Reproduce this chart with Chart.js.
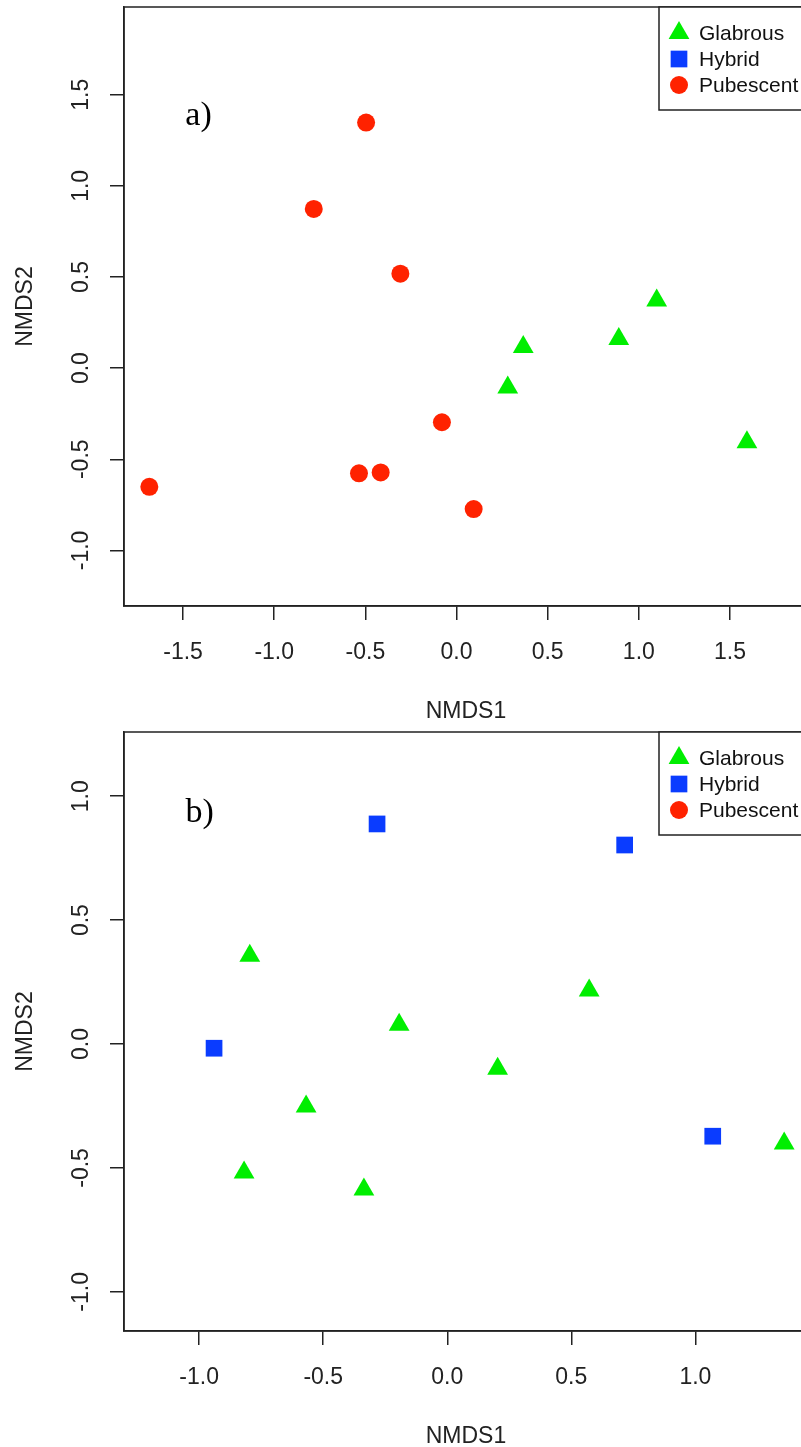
<!DOCTYPE html>
<html><head><meta charset="utf-8">
<script src="https://cdn.jsdelivr.net/npm/chart.js@4.4.1/dist/chart.umd.min.js"></script>
<style>
html,body{margin:0;padding:0;background:#fff;overflow:hidden;width:801px;height:1447px;}
#wa{position:absolute;left:0;top:0;width:820px;height:725px;}
#wb{position:absolute;left:0;top:725px;width:820px;height:725px;}
canvas{display:block;}
</style></head><body>
<div id="wa"><canvas id="ca" width="820" height="725"></canvas></div>
<div id="wb"><canvas id="cb" width="820" height="725"></canvas></div>
<script>
// ---- data ----
const seriesNames = ['Glabrous', 'Hybrid', 'Pubescent'];

// panel a)
const aGlabrousX   = [1.098, 0.890, 0.366, 0.281, 1.593];
const aGlabrousY   = [0.371, 0.160, 0.116, -0.106, -0.407];
const aHybridX     = [];
const aHybridY     = [];
const aPubescentX  = [-0.496, -0.783, -0.308, -0.080, 0.094, -1.685, -0.535, -0.416];
const aPubescentY  = [1.347, 0.873, 0.518, -0.297, -0.773, -0.651, -0.577, -0.572];

// panel b)
const bGlabrousX   = [-0.796, -0.194, -0.569, 0.572, 0.203, 1.358, -0.819, -0.336];
const bGlabrousY   = [0.356, 0.078, -0.252, 0.216, -0.100, -0.401, -0.518, -0.587];
const bHybridX     = [-0.283, -0.940, 0.715, 1.070];
const bHybridY     = [0.888, -0.017, 0.803, -0.372];
const bPubescentX  = [];
const bPubescentY  = [];

// axes
const aXTicks = [-1.5, -1.0, -0.5, 0.0, 0.5, 1.0, 1.5];
const aYTicks = [-1.0, -0.5, 0.0, 0.5, 1.0, 1.5];
const bXTicks = [-1.0, -0.5, 0.0, 0.5, 1.0];
const bYTicks = [-1.0, -0.5, 0.0, 0.5, 1.0];
const aXRange = [-1.824, 1.928];
const aYRange = [-1.305, 1.981];
const bXRange = [-1.303, 1.454];
const bYRange = [-1.158, 1.259];
const xTitle = 'NMDS1';
const yTitle = 'NMDS2';
const aTag = 'a)', aTagPos = [-1.415, 1.38];
const bTag = 'b)', bTagPos = [-0.998, 0.93];

// ---- styles ----
const styles = {
  Glabrous:  {pointStyle: 'triangle', radius: 12,   color: '#00ee00'},
  Hybrid:    {pointStyle: 'rect',     radius: 11.8, color: '#0a3cff'},
  Pubescent: {pointStyle: 'circle',   radius: 9,    color: '#ff2200'}
};
const AXIS = '#222';
const SANS = '"Liberation Sans", Arial, sans-serif';

function ds(name, xs, ys) {
  const s = styles[name];
  return {
    label: name,
    data: xs.map((x, i) => ({x: x, y: ys[i]})),
    pointStyle: s.pointStyle,
    pointRadius: s.radius,
    pointHoverRadius: s.radius,
    backgroundColor: s.color,
    borderColor: s.color,
    pointBorderWidth: 0,
    showLine: false
  };
}

function drawMarker(ctx, style, x, y) {
  ctx.fillStyle = style.color;
  ctx.strokeStyle = style.color;
  if (Chart.helpers && Chart.helpers.drawPoint) {
    Chart.helpers.drawPoint(ctx, {pointStyle: style.pointStyle, rotation: 0, radius: style.radius, borderWidth: 0}, x, y);
  }
}

const decor = {
  id: 'decor',
  afterDraw(chart, args, o) {
    const {ctx, chartArea: a} = chart;
    const xs = chart.scales.x, ys = chart.scales.y;
    ctx.save();
    // frame
    ctx.strokeStyle = AXIS; ctx.lineWidth = 1.5;
    ctx.strokeRect(a.left, a.top, a.right - a.left, a.bottom - a.top);
    // panel tag
    ctx.fillStyle = '#000';
    ctx.font = '34px "Liberation Serif", "Times New Roman", serif';
    ctx.textAlign = 'center'; ctx.textBaseline = 'middle';
    ctx.fillText(o.tag, xs.getPixelForValue(o.tagPos[0]), ys.getPixelForValue(o.tagPos[1]));
    // legend box
    const lx = a.right - 149, ly = a.top, lw = 149, lh = 103;
    ctx.fillStyle = '#fff';
    ctx.fillRect(lx, ly, lw, lh);
    ctx.strokeRect(lx, ly, lw, lh);
    const rows = [26, 52, 78];
    ctx.font = '21px ' + SANS;
    ctx.textAlign = 'left'; ctx.textBaseline = 'middle';
    seriesNames.forEach((n, i) => {
      drawMarker(ctx, styles[n], lx + 20, ly + rows[i]);
      ctx.fillStyle = '#111';
      ctx.fillText(n, lx + 40, ly + rows[i] + 1);
    });
    ctx.restore();
  }
};

function makeChart(id, datasets, xr, yr, xt, yt, tag, tagPos) {
  const tickFont = {family: SANS, size: 23};
  return new Chart(document.getElementById(id), {
    type: 'scatter',
    data: {datasets: datasets},
    options: {
      responsive: false,
      devicePixelRatio: 1,
      animation: false,
      events: [],
      layout: {autoPadding: false, padding: {left: 0, top: 7, right: 12, bottom: 0}},
      plugins: {legend: {display: false}, tooltip: {enabled: false}, decor: {tag: tag, tagPos: tagPos}},
      scales: {
        x: {
          type: 'linear', min: xr[0], max: xr[1],
          afterBuildTicks: s => { s.ticks = xt.map(v => ({value: v})); },
          afterFit: s => { s.height = 119; s.paddingLeft = 0; s.paddingRight = 0; },
          grid: {drawOnChartArea: false, drawTicks: true, tickLength: 14, color: AXIS, lineWidth: 1.5},
          border: {display: true, color: AXIS, width: 1.5},
          ticks: {font: tickFont, color: '#222', padding: 19, maxRotation: 0, minRotation: 0,
                  callback: v => Number(v).toFixed(1)},
          title: {display: true, text: xTitle, font: {family: SANS, size: 23}, color: '#222',
                  padding: {top: 0, bottom: 0}}
        },
        y: {
          type: 'linear', min: yr[0], max: yr[1],
          afterBuildTicks: s => { s.ticks = yt.map(v => ({value: v})); },
          afterFit: s => { s.width = 124; s.paddingTop = 0; s.paddingBottom = 0; },
          grid: {drawOnChartArea: false, drawTicks: true, tickLength: 14, color: AXIS, lineWidth: 1.5},
          border: {display: true, color: AXIS, width: 1.5},
          ticks: {font: tickFont, color: '#222', padding: 9, minRotation: 90, maxRotation: 90,
                  crossAlign: 'center', callback: v => Number(v).toFixed(1)},
          title: {display: true, text: yTitle, font: {family: SANS, size: 23}, color: '#222',
                  padding: {top: 12, bottom: 0}}
        }
      }
    },
    plugins: [decor]
  });
}

makeChart('ca', [
  ds('Glabrous', aGlabrousX, aGlabrousY),
  ds('Hybrid', aHybridX, aHybridY),
  ds('Pubescent', aPubescentX, aPubescentY)
], aXRange, aYRange, aXTicks, aYTicks, aTag, aTagPos);

makeChart('cb', [
  ds('Glabrous', bGlabrousX, bGlabrousY),
  ds('Hybrid', bHybridX, bHybridY),
  ds('Pubescent', bPubescentX, bPubescentY)
], bXRange, bYRange, bXTicks, bYTicks, bTag, bTagPos);
</script>
</body></html>
